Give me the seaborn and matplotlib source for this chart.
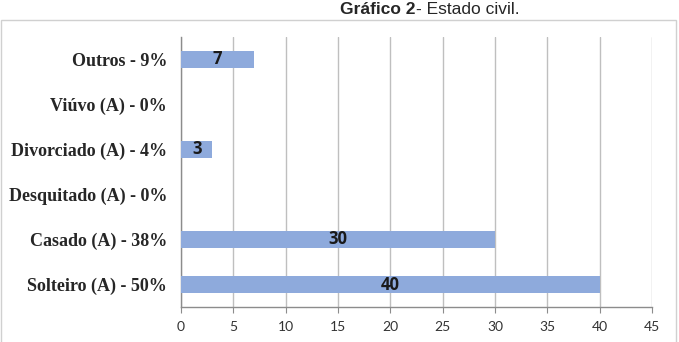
import matplotlib
matplotlib.use("Agg")
import matplotlib.pyplot as plt
import seaborn as sns
import pandas as pd
import numpy as np

categorias = ["Outros - 9%", "Viúvo (A) - 0%", "Divorciado (A) - 4%",
              "Desquitado (A) - 0%", "Casado (A) - 38%", "Solteiro (A) - 50%"]
valores = [7, 0, 3, 0, 30, 40]
rotulos = ["7", "", "3", "", "30", "40"]
xticks = [0, 5, 10, 15, 20, 25, 30, 35, 40, 45]

sns.set_style("white")
df = pd.DataFrame({"cat": categorias, "val": valores})

fig = plt.figure(figsize=(6.79, 3.42), dpi=100)
ax = fig.add_axes([181 / 679, 1 - 307 / 342, (652 - 181) / 679, 270 / 342])

sns.barplot(data=df, x="val", y="cat", order=categorias, color="#8eaadc",
            saturation=1, width=0.38, linewidth=0, ax=ax, zorder=3)

for i, (v, r) in enumerate(zip(valores, rotulos)):
    if r:
        ax.text(v / 2, i, r, ha="center", va="center", fontsize=12,
                fontweight="bold", family="Open Sans", color="#1a1a1a", zorder=4)

ax.set_xlim(0, 45)
ax.set_ylim(5.5, -0.5)
ax.set_xticks(xticks)
ax.set_xticklabels([str(t) for t in xticks], fontsize=10, family="Lato", color="#333333")
ax.xaxis.grid(True, color="#bfbfbf", linewidth=1, zorder=0)
ax.set_yticks(range(len(categorias)))
ax.set_yticklabels(categorias, fontsize=13, fontweight="bold", family="Liberation Serif")
ax.set_yticks(np.arange(-0.5, 6, 1), minor=True)
ax.tick_params(axis="y", which="major", length=0, pad=10)
ax.tick_params(axis="y", which="minor", length=4, color="#8c8c8c", direction="out")
ax.tick_params(axis="x", length=4, color="#8c8c8c", direction="out", bottom=True, pad=6)
ax.set_xlabel("")
ax.set_ylabel("")
for s in ["top", "right"]:
    ax.spines[s].set_visible(False)
for s in ["left", "bottom"]:
    ax.spines[s].set_color("#8c8c8c")
    ax.spines[s].set_linewidth(1)

# moldura do gráfico
borda = plt.Rectangle((1 / 679, -0.01), 675 / 679, 1 - 20 / 342 + 0.01,
                      transform=fig.transFigure, fill=False, edgecolor="#d0d0d0",
                      linewidth=1)
fig.patches.append(borda)

t1 = fig.text(340 / 679, 1 - 10 / 342, "Gráfico 2", fontsize=12.5, fontweight="bold",
              family="Liberation Sans", va="center", ha="left")
fig.canvas.draw()
bb = t1.get_window_extent()
fig.text(bb.x1 / 679, 1 - 10 / 342, "- Estado civil.", fontsize=12.5,
         family="Liberation Sans", va="center", ha="left")

fig.savefig("out.png", dpi=100)
